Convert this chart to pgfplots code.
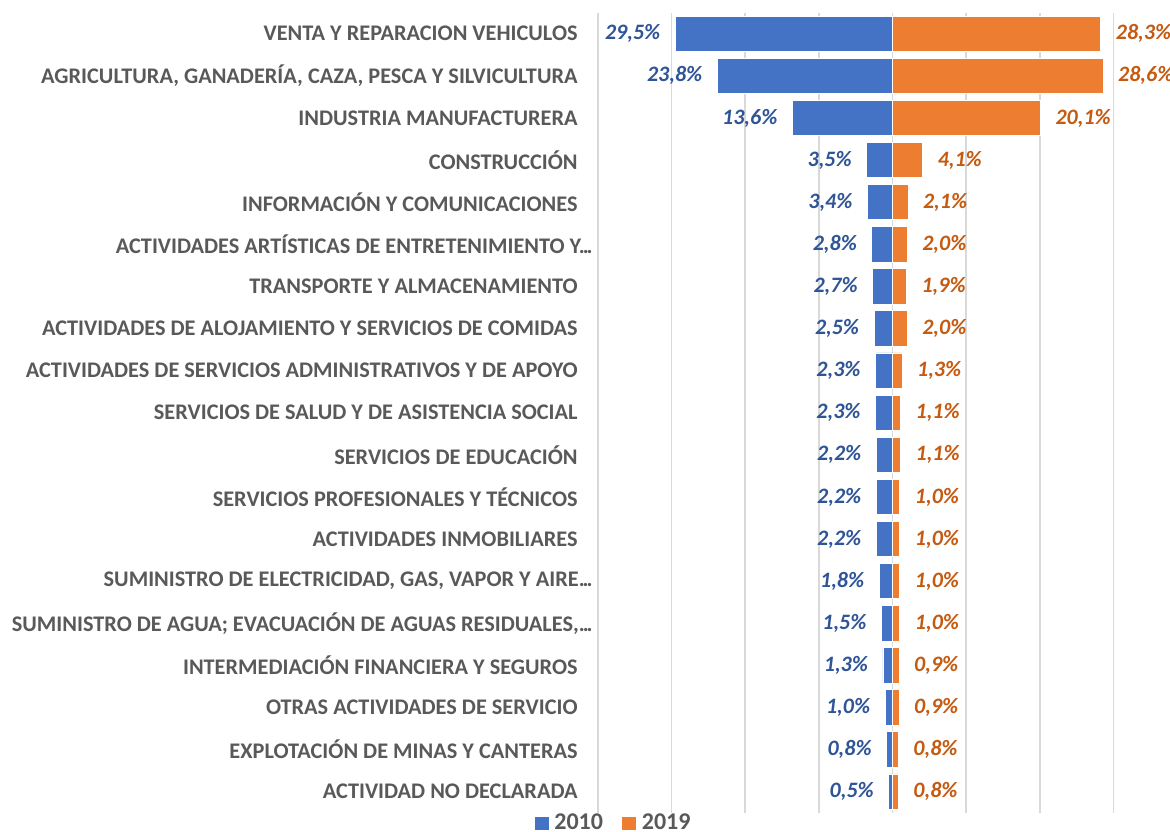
\documentclass[border=0pt]{standalone}
\usepackage{pgfplots}
\pgfplotsset{compat=1.18}
\usepackage{pgfplotstable}
\usepackage{fontspec}
\setmainfont{Carlito}
\definecolor{cblue}{HTML}{4472C4}
\definecolor{corange}{HTML}{ED7D31}
\definecolor{lblue}{HTML}{2F5597}
\definecolor{lorange}{HTML}{C55A11}
\definecolor{tgray}{HTML}{595959}
\definecolor{ggray}{HTML}{D9D9D9}
\newcommand{\trunc}{.\kern-1pt.\kern-1pt.\hspace*{-7.5pt}}

\pgfplotstableread{
idx a b
0 29.5 28.3
1 23.8 28.6
2 13.6 20.1
3 3.5 4.1
4 3.4 2.1
5 2.8 2.0
6 2.7 1.9
7 2.5 2.0
8 2.3 1.3
9 2.3 1.1
10 2.2 1.1
11 2.2 1.0
12 2.2 1.0
13 1.8 1.0
14 1.5 1.0
15 1.3 0.9
16 1.0 0.9
17 0.8 0.8
18 0.5 0.8
}\data

\begin{document}
\begin{tikzpicture}
\begin{axis}[
  scale only axis, width=294.5pt, height=400pt,
  xmin=-40, xmax=40, ymin=-0.5, ymax=18.5, y dir=reverse,
  xtick={-40,-30,...,40}, xticklabel=\empty,
  xmajorgrids, grid style={ggray, line width=0.8pt},
  ytick={0,...,18},
  yticklabels={
    {VENTA Y REPARACION VEHICULOS},
    {AGRICULTURA, GANADERÍA, CAZA, PESCA Y SILVICULTURA},
    {INDUSTRIA MANUFACTURERA},
    {CONSTRUCCIÓN},
    {INFORMACIÓN Y COMUNICACIONES},
    {ACTIVIDADES ARTÍSTICAS DE ENTRETENIMIENTO Y\trunc},
    {TRANSPORTE Y ALMACENAMIENTO},
    {ACTIVIDADES DE ALOJAMIENTO Y SERVICIOS DE COMIDAS},
    {ACTIVIDADES DE SERVICIOS ADMINISTRATIVOS Y DE APOYO},
    {SERVICIOS DE SALUD Y DE ASISTENCIA SOCIAL},
    {SERVICIOS DE EDUCACIÓN},
    {SERVICIOS PROFESIONALES Y TÉCNICOS},
    {ACTIVIDADES INMOBILIARES},
    {SUMINISTRO DE ELECTRICIDAD, GAS, VAPOR Y AIRE\trunc},
    {SUMINISTRO DE AGUA; EVACUACIÓN DE AGUAS RESIDUALES,\trunc},
    {INTERMEDIACIÓN FINANCIERA Y SEGUROS},
    {OTRAS ACTIVIDADES DE SERVICIO},
    {EXPLOTACIÓN DE MINAS Y CANTERAS},
    {ACTIVIDAD NO DECLARADA}},
  yticklabel style={font=\fontsize{11.15}{13}\selectfont\bfseries, text=tgray, inner sep=0pt, xshift=-10pt},
  major tick length=0pt, axis line style={draw=none},
  xbar, bar shift=0pt, bar width=0.84,
  legend style={draw=none, fill=none, at={(-0.110,-0.013)}, anchor=west, legend columns=2,
    font=\fontsize{12}{13}\selectfont\bfseries, text=tgray, inner sep=0pt,
    /tikz/every even column/.append style={column sep=7pt}},
  legend image code/.code={\fill[#1] (0pt,-3.5pt) rectangle (7.5pt,3.5pt); \path (8pt,0pt);},
]
\coordinate (TL) at (axis description cs:0,1);
\addplot[xbar, fill=cblue, draw=white, line width=0.4pt,
  point meta=\thisrow{a},
  nodes near coords={\pgfmathprintnumber[fixed,fixed zerofill,precision=1,use comma,assume math mode=true]{\pgfplotspointmeta}\%},
  nodes near coords align={anchor=east},
  every node near coord/.append style={anchor=east, xshift=-4pt, text=lblue, font=\fontsize{11}{13}\selectfont\bfseries\itshape}]
  table[x expr=-\thisrow{a}, y=idx] {\data};
\addlegendentry{2010}
\addplot[xbar, fill=corange, draw=white, line width=0.4pt,
  point meta=\thisrow{b},
  nodes near coords={\pgfmathprintnumber[fixed,fixed zerofill,precision=1,use comma,assume math mode=true]{\pgfplotspointmeta}\%},
  nodes near coords align={anchor=west},
  every node near coord/.append style={anchor=west, xshift=4pt, text=lorange, font=\fontsize{11}{13}\selectfont\bfseries\itshape}]
  table[x=b, y=idx] {\data};
\addlegendentry{2019}
\end{axis}
\pgfresetboundingbox
\path[use as bounding box] ([xshift=-299pt,yshift=6.35pt]TL) rectangle ++(585pt,-415.5pt);
\end{tikzpicture}
\end{document}
